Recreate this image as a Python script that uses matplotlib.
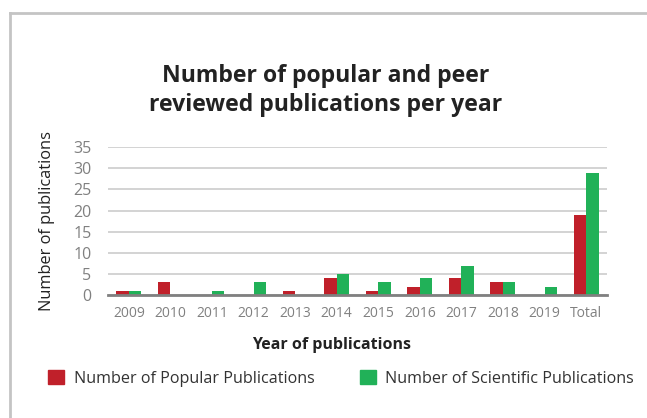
import numpy as np
import matplotlib.pyplot as plt
from matplotlib.lines import Line2D
from matplotlib.patches import Patch

plt.rcParams['font.family'] = ['Open Sans', 'DejaVu Sans']

# Donnees
annees = ["2009", "2010", "2011", "2012", "2013", "2014", "2015", "2016",
          "2017", "2018", "2019", "Total"]
populaires = [1, 3, 0, 0, 1, 4, 1, 2, 4, 3, 0, 19]
scientifiques = [1, 0, 1, 3, 0, 5, 3, 4, 7, 3, 2, 29]

rouge = "#C0202A"
vert = "#21B158"

fig = plt.figure(figsize=(6.47, 4.18), dpi=100)
ax = fig.add_axes([0.167, 0.294, 0.771, 0.354])

x = np.arange(len(annees))
largeur = 0.3
ax.bar(x - largeur / 2, populaires, largeur, color=rouge, zorder=3)
ax.bar(x + largeur / 2, scientifiques, largeur, color=vert, zorder=3)

ax.set_xlim(-0.5, len(annees) - 0.5)
ax.set_ylim(0, 35)
ax.set_yticks(range(0, 36, 5))
ax.set_xticks(x)
ax.set_xticklabels(annees)
ax.tick_params(length=0, colors="#808080")
ax.tick_params(axis="x", pad=8, labelsize=10)
ax.tick_params(axis="y", pad=12, labelsize=11.5)
ax.grid(axis="y", color="#CCCCCC", linewidth=1.2, zorder=0)
for s in ["top", "right", "left"]:
    ax.spines[s].set_visible(False)
ax.spines["bottom"].set_color("#808080")
ax.spines["bottom"].set_linewidth(2)
ax.spines["bottom"].set_zorder(4)

ax.set_ylabel("Number of publications", fontsize=11.8, color="#222222", labelpad=13)
ax.set_xlabel("Year of publications", fontsize=11.5, fontweight="bold",
              color="#222222", labelpad=10)
ax.xaxis.set_label_coords(0.449, -0.28)

fig.text(0.503, 0.783, "Number of popular and peer\nreviewed publications per year",
         ha="center", va="center", fontsize=16.6, fontweight="bold",
         color="#222222", linespacing=1.25)

# Cadre gris en haut et a gauche
fig.add_artist(Line2D([0.015, 0.015], [0, 0.97], color="#C4C4C4", linewidth=2,
                      transform=fig.transFigure))
fig.add_artist(Line2D([0.015, 1.0], [0.97, 0.97], color="#C4C4C4", linewidth=2,
                      transform=fig.transFigure))

poignees = [Patch(color=rouge), Patch(color=vert)]
fig.legend(poignees, ["Number of Popular Publications",
                      "Number of Scientific Publications"],
           loc="center", bbox_to_anchor=(0.527, 0.095), ncol=2, frameon=False,
           handlelength=1.0, handleheight=1.0, columnspacing=2.8,
           handletextpad=0.6, fontsize=11.6, labelcolor="#333333")

plt.savefig("out.png", dpi=100)
